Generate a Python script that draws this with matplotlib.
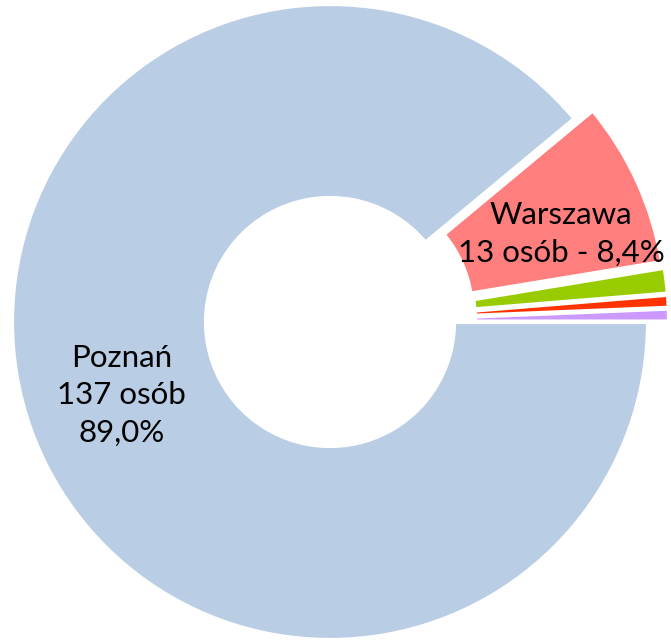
import numpy as np
import matplotlib.pyplot as plt

# data (persons per city)
cities = ['Poznań', 'Warszawa', 'inne 1', 'inne 2', 'inne 3']
persons = [137, 13, 2, 1, 1]
colors = ['#B9CDE5', '#FF7F7F', '#99CC00', '#FF3300', '#CC99FF']

plt.rcParams['font.family'] = ['Lato', 'DejaVu Sans']

fig = plt.figure(figsize=(6.71, 6.40), dpi=100)
ax = fig.add_axes([0, 0, 1, 1])

R = 318
cx, cy = 330, 318
# explode is in data units here (pie radius is R, not 1)
explode = [0, 20, 21, 21, 21]
wedges, _ = ax.pie(persons, colors=colors, explode=explode, startangle=0,
                   counterclock=False, radius=R, center=(cx, cy),
                   wedgeprops=dict(width=R * 0.61, edgecolor='white', linewidth=3))

total = sum(persons)

def pct(v):
    return f'{v / total * 100:.1f}'.replace('.', ',') + '%'

# label text, distance from centre (fraction of R), angle shift in degrees
labels = {
    0: (f'{cities[0]}\n{persons[0]} osób\n{pct(persons[0])}', 0.695, -0.5),
    1: (f'{cities[1]}\n{persons[1]} osób - {pct(persons[1])}', 0.715, -4.0),
}
for i, (txt, dist, dth) in labels.items():
    w = wedges[i]
    th = np.deg2rad((w.theta1 + w.theta2) / 2 + dth)
    x0, y0 = w.center
    ax.text(x0 + dist * R * np.cos(th), y0 + dist * R * np.sin(th), txt,
            ha='center', va='center', fontsize=22.5, color='black', linespacing=1.4)

ax.set_xlim(0, 671)
ax.set_ylim(0, 640)
ax.set_aspect('equal')
ax.axis('off')

fig.savefig('out.png', dpi=100)
